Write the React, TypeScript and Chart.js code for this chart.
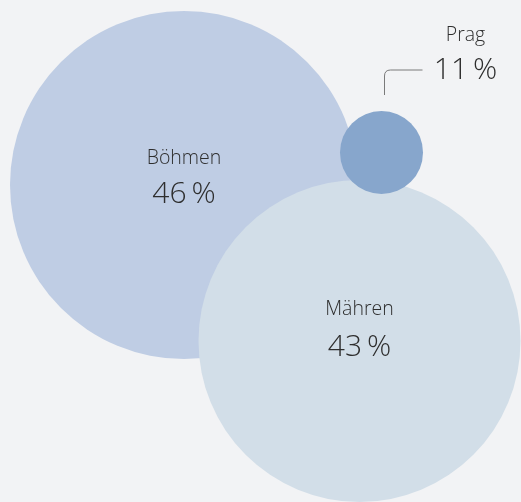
import React, { useEffect, useRef } from "react";
import { Chart, registerables } from "chart.js";

Chart.register(...registerables);

const regions = ["Böhmen", "Mähren", "Prag"];
const shares = [46, 43, 11];
const centerX = [184, 359.5, 381.5];
const centerY = [185, 341, 152.5];
const radii = [174, 161, 41.5];
const colors = ["#bfcde4", "#d2dee8", "#87a6cc"];

const W = 521;
const H = 502;
const BG = "#f2f3f5";
const TEXT = "#2e2e2e";

const labelPlugin = {
  id: "bubbleLabels",
  beforeDraw(chart: any) {
    const { ctx } = chart;
    ctx.save();
    ctx.fillStyle = BG;
    ctx.fillRect(0, 0, chart.width, chart.height);
    ctx.restore();
  },
  afterDatasetsDraw(chart: any) {
    const { ctx } = chart;
    const meta = chart.getDatasetMeta(0);
    ctx.save();
    ctx.fillStyle = TEXT;
    ctx.textAlign = "center";
    ctx.textBaseline = "alphabetic";
    meta.data.forEach((el: any, i: number) => {
      const outside = radii[i] < 60;
      let tx = el.x;
      let titleY = el.y - 21;
      let valueY = el.y + 18;
      if (i === 1) {
        titleY = el.y - 26;
        valueY = el.y + 15;
      }
      if (outside) {
        tx = el.x + 84;
        titleY = el.y - 112;
        valueY = el.y - 74;
        // connector
        const sx = el.x + 3;
        const sy = el.y - radii[i] - 16;
        const cy = el.y - 82.5;
        const ex = el.x + 41;
        const cr = 6;
        ctx.strokeStyle = "#7a7a7a";
        ctx.lineWidth = 1;
        ctx.beginPath();
        ctx.moveTo(sx, sy);
        ctx.lineTo(sx, cy + cr);
        ctx.quadraticCurveTo(sx, cy, sx + cr, cy);
        ctx.lineTo(ex, cy);
        ctx.stroke();
      }
      ctx.font = "350 19.5px 'Open Sans'";
      ctx.fillText(regions[i], tx, titleY);
      ctx.font = "350 30px 'Open Sans'";
      ctx.fillText(shares[i] + "\u2009%", tx, valueY);
    });
    ctx.restore();
  },
};

export default function App() {
  const ref = useRef<HTMLCanvasElement | null>(null);
  useEffect(() => {
    document.body.style.margin = "0";
    document.body.style.background = BG;
    if (!ref.current) return;
    const chart = new Chart(ref.current, {
      type: "bubble",
      data: {
        datasets: [
          {
            data: regions.map((_, i) => ({ x: centerX[i], y: centerY[i], r: radii[i] })),
            backgroundColor: colors,
            borderWidth: 0,
            hoverBorderWidth: 0,
            hoverRadius: 0,
            clip: false,
          },
        ],
      },
      options: {
        animation: false,
        responsive: false,
        devicePixelRatio: 1,
        layout: { padding: 0, autoPadding: false },
        plugins: {
          legend: { display: false },
          tooltip: { enabled: false },
        },
        events: [],
        scales: {
          x: { type: "linear", min: 0, max: W, display: false },
          y: { type: "linear", min: 0, max: H, reverse: true, display: false },
        },
      },
      plugins: [labelPlugin],
    });
    return () => chart.destroy();
  }, []);
  return (
    <div style={{ width: W, height: H }}>
      <canvas ref={ref} width={W} height={H} style={{ display: "block" }} />
    </div>
  );
}
